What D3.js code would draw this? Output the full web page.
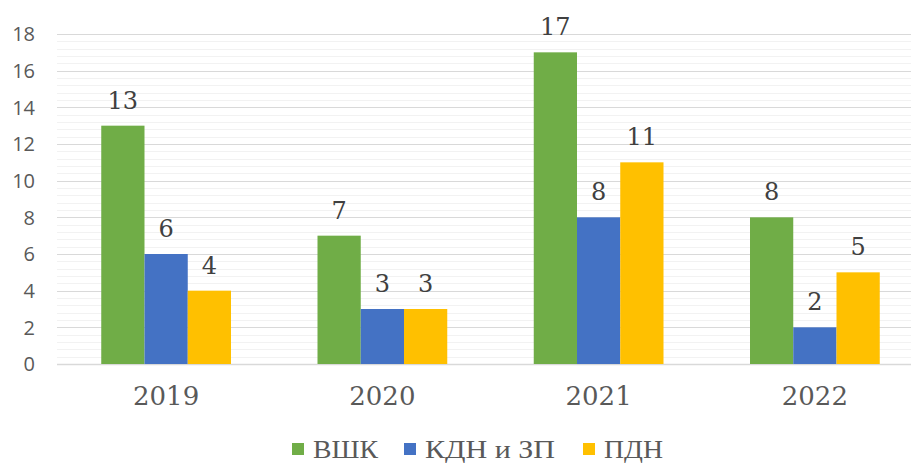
<!DOCTYPE html>
<html><head><meta charset="utf-8">
<script src="https://cdn.jsdelivr.net/npm/d3@7"></script>
<style>body{margin:0;background:#fff}svg{display:block}</style>
</head><body>
<svg id="c" width="911" height="464"></svg>
<script>
const categories = ["2019","2020","2021","2022"];
const seriesNames = ["ВШК","КДН и ЗП","ПДН"];
const vshk = [13,7,17,8];
const kdn = [6,3,8,2];
const pdn = [4,3,11,5];
const yTicks = [0,2,4,6,8,10,12,14,16,18];
const colors = ["#70AD47","#4472C4","#FFC000"];
const seriesValues = [vshk,kdn,pdn];

const svg = d3.select("#c");
const x = d3.scaleBand().domain(categories).range([58,923]).padding(0);
const bw = x.bandwidth();
const x1 = d3.scaleBand().domain(seriesNames).range([0.2*bw,0.8*bw]).padding(0);
const y = d3.scaleLinear().domain([0,18]).range([364,34]);

// minor gridlines
const minor = d3.range(0,18.001,0.4).filter(v=>Math.abs(v/2-Math.round(v/2))>1e-6);
svg.append("g").selectAll("line").data(minor).join("line")
  .attr("x1",57).attr("x2",911).attr("y1",d=>Math.round(y(d))+0.5).attr("y2",d=>Math.round(y(d))+0.5)
  .attr("stroke","#f2f2f2").attr("stroke-width",1);
// major gridlines
svg.append("g").selectAll("line").data(yTicks).join("line")
  .attr("x1",57).attr("x2",911).attr("y1",d=>Math.round(y(d))+0.5).attr("y2",d=>Math.round(y(d))+0.5)
  .attr("stroke","#d9d9d9").attr("stroke-width",d=>d===0?1.5:1);

// y tick labels
svg.append("g").selectAll("text").data(yTicks).join("text")
  .attr("x",35).attr("y",d=>y(d)).attr("dy","0.36em").attr("text-anchor","end")
  .attr("font-family","'Open Sans', 'Liberation Sans', sans-serif").attr("font-size",20)
  .attr("fill","#595959").text(d=>d);

// bars
const rows = [];
categories.forEach((c,i)=>seriesNames.forEach((s,j)=>rows.push({c,s,j,v:seriesValues[j][i]})));
const g = svg.append("g");
g.selectAll("rect").data(rows).join("rect")
  .attr("x",d=>x(d.c)+x1(d.s)).attr("width",x1.bandwidth())
  .attr("y",d=>y(d.v)).attr("height",d=>y(0)-y(d.v))
  .attr("fill",d=>colors[d.j]);
g.selectAll("text").data(rows).join("text")
  .attr("x",d=>x(d.c)+x1(d.s)+x1.bandwidth()/2).attr("y",d=>y(d.v)-17)
  .attr("text-anchor","middle").attr("font-family","'DejaVu Serif', serif").attr("font-size",24)
  .attr("fill","#404040").text(d=>d.v);

// x labels
svg.append("g").selectAll("text").data(categories).join("text")
  .attr("x",d=>x(d)+bw/2).attr("y",405).attr("text-anchor","middle")
  .attr("font-family","'DejaVu Serif', serif").attr("font-size",26)
  .attr("fill","#595959").text(d=>d);

// legend
const legX = [292,404,583];
const legW = [65,130,59];
const leg = svg.append("g");
seriesNames.forEach((s,j)=>{
  leg.append("rect").attr("x",legX[j]).attr("y",443).attr("width",12).attr("height",12).attr("fill",colors[j]);
  leg.append("text").attr("x",legX[j]+21).attr("y",458).attr("font-family","'Liberation Serif', serif")
    .attr("font-size",25).attr("textLength",legW[j]).attr("lengthAdjust","spacingAndGlyphs")
    .attr("fill","#595959").text(s);
});
</script>
</body></html>
